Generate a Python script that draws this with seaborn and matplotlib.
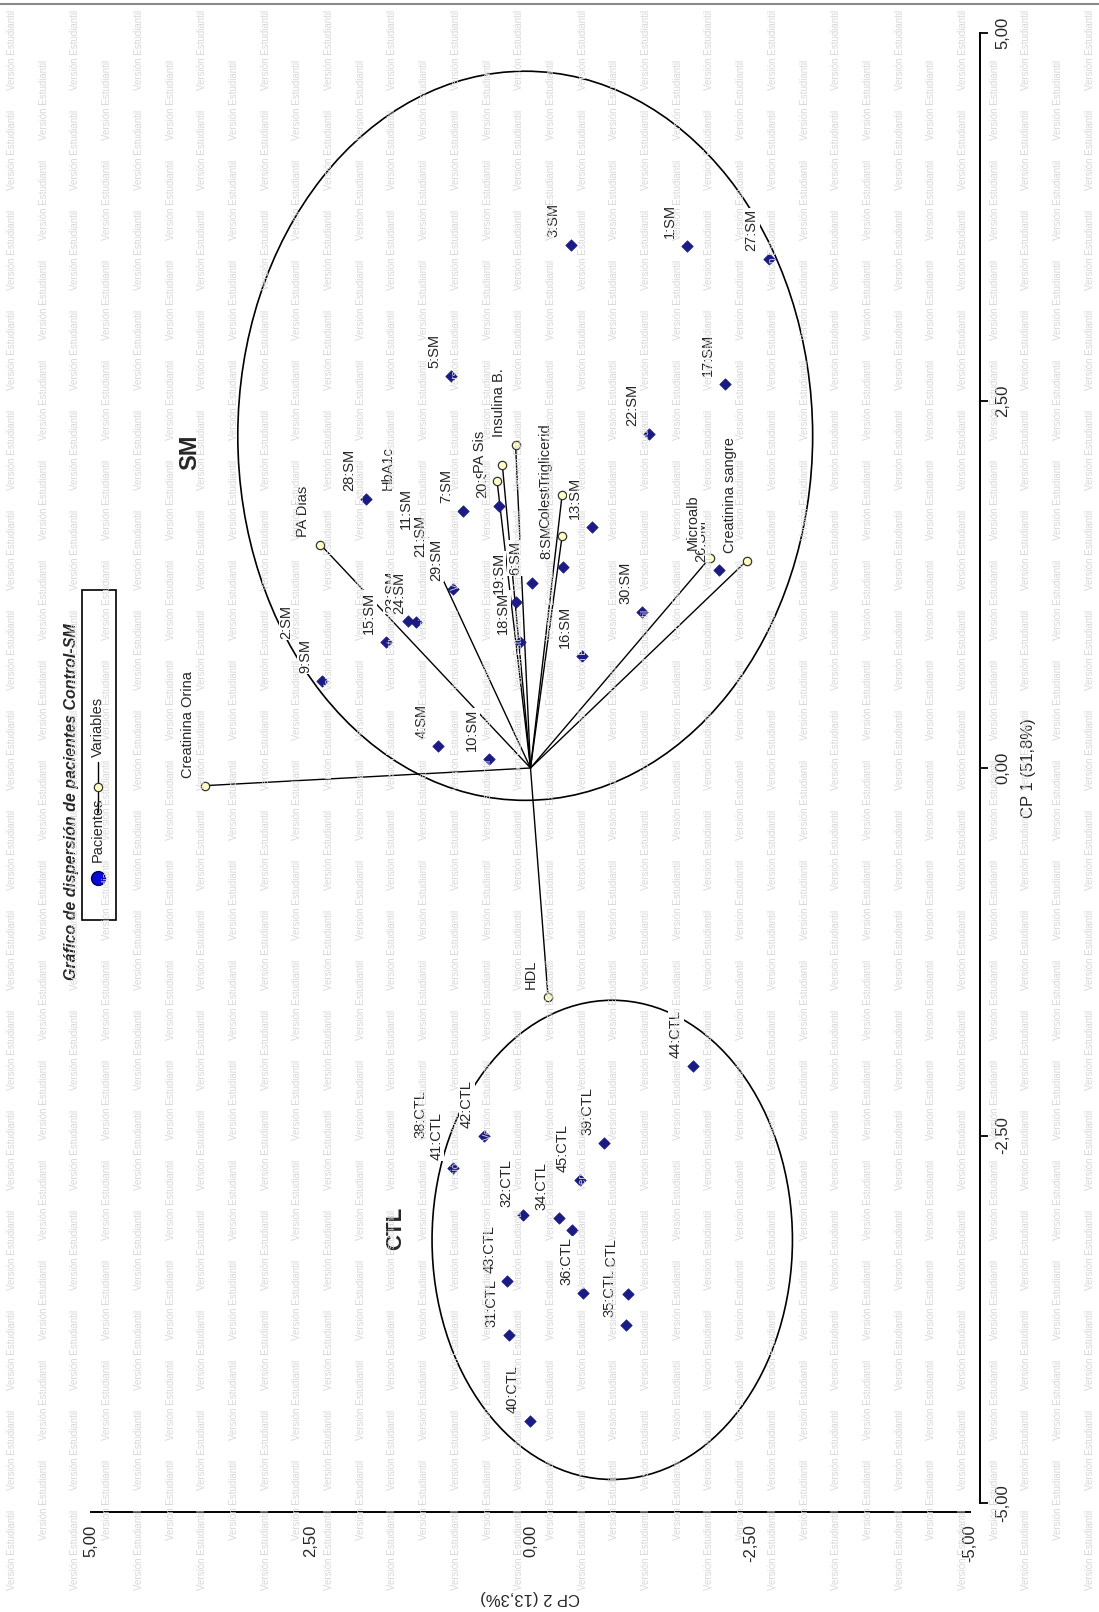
import numpy as np
import pandas as pd
import matplotlib
matplotlib.use("Agg")
import matplotlib.pyplot as plt
from matplotlib.patches import Ellipse, Rectangle
from matplotlib.lines import Line2D
import seaborn as sns

# ---------------- data ----------------
patient_labels = ["1:SM", "2:SM", "3:SM", "4:SM", "5:SM", "6:SM", "7:SM", "8:SM", "9:SM", "10:SM",
                  "11:SM", "13:SM", "15:SM", "16:SM", "17:SM", "18:SM", "19:SM", "20:SM", "21:SM",
                  "22:SM", "23:SM", "24:SM", "26:SM", "27:SM", "28:SM", "29:SM", "30:SM",
                  "31:CTL", "32:CTL", "33:CTL", "34:CTL", "37:CTL", "35:CTL", "36:CTL", "38:CTL",
                  "39:CTL", "40:CTL", "41:CTL", "42:CTL", "43:CTL", "44:CTL", "45:CTL"]
patient_cp1 = [3.55, 0.82, 3.56, 0.15, 2.67, 1.26, 1.75, 1.37, 0.59, 0.06,
               1.57, 1.64, 0.86, 0.76, 2.61, 0.86, 1.13, 1.78, 1.38,
               2.27, 1.00, 0.99, 1.35, 3.46, 1.83, 1.22, 1.06,
               -3.86, -3.04, -3.14, -3.06, -3.58, -3.79, -3.57, -2.57,
               -2.55, -4.44, -2.72, -2.50, -3.49, -2.03, -2.80]
patient_cp2 = [-1.78, 2.58, -0.46, 1.05, 0.90, -0.02, 0.77, -0.37, 2.37, 0.47,
               1.23, -0.70, 1.64, -0.59, -2.21, 0.12, 0.17, 0.36, 1.06,
               -1.35, 1.39, 1.30, -2.14, -2.71, 1.87, 0.88, -1.27,
               0.25, 0.08, -0.47, -0.32, -1.11, -1.09, -0.60, 1.06,
               -0.84, 0.01, 0.88, 0.53, 0.27, -1.85, -0.56]

variable_names = ["Creatinina Orina", "PA Dias", "HbA1c", "Glucosa", "PA Sis", "Insulina B.",
                  "Colesterol", "Triglicerid", "Microalb", "Creatinina sangre", "HDL"]
variable_cp1 = [-0.12, 1.52, 1.84, 2.06, 1.95, 2.20, 1.58, 1.86, 1.43, 1.41, -1.56]
variable_cp2 = [3.70, 2.39, 1.43, 0.32, 0.38, 0.17, -0.36, -0.36, -2.04, -2.46, -0.20]
hidden_labels = {"33:CTL", "Glucosa"}

group_names = ["SM", "CTL"]
ellipse_center_cp1 = [2.26, -3.21]
ellipse_center_cp2 = [0.06, -0.93]
ellipse_half_cp1 = [2.48, 1.63]
ellipse_half_cp2 = [3.27, 2.05]

tick_values = [5.0, 2.5, 0.0, -2.5, -5.0]
tick_labels = ["5,00", "2,50", "0,00", "-2,50", "-5,00"]

title = "Gráfico de dispersión de pacientes Control-SM"
xlab = "CP 1 (51,8%)"
ylab = "CP 2 (13,3%)"
legend_labels = ["Pacientes", "Variables"]

# ---------------- figure ----------------
W, H = 1099, 1612
sns.set_style("white")
plt.rcParams["font.family"] = ["Liberation Sans", "DejaVu Sans"]
NARROW = ["Liberation Sans Narrow", "Liberation Sans", "DejaVu Sans"]

fig = plt.figure(figsize=(W / 100, H / 100), dpi=100)
fig.patch.set_facecolor("white")

def fx(px):
    return px / W

def fy(py):
    return 1 - py / H

# axes: x = CP2 (5 at left, -5 at right), y = CP1 (-5 bottom, 5 top)
ax_l, ax_r, ax_t, ax_b = 91, 970, 33, 1503
ax = fig.add_axes([fx(ax_l), fy(ax_b), (ax_r - ax_l) / W, (ax_b - ax_t) / H])
ax.set_facecolor("none")
ax.set_xlim(5, -5)
ax.set_ylim(-5, 5)

pts = pd.DataFrame({"label": patient_labels, "CP1": patient_cp1, "CP2": patient_cp2})
var = pd.DataFrame({"name": variable_names, "CP1": variable_cp1, "CP2": variable_cp2})

# ellipses
for i in range(len(group_names)):
    e = Ellipse((ellipse_center_cp2[i], ellipse_center_cp1[i]),
                width=2 * ellipse_half_cp2[i], height=2 * ellipse_half_cp1[i],
                fill=False, ec="black", lw=1.2, zorder=1)
    ax.add_patch(e)

# vectors
for _, r in var.iterrows():
    ax.plot([0, r["CP2"]], [0, r["CP1"]], color="black", lw=1.0, zorder=2)

sns.scatterplot(data=pts, x="CP2", y="CP1", ax=ax, marker="D", s=34,
                color="#1b1b84", edgecolor="#1b1b84", linewidth=0.5, zorder=3, legend=False)
sns.scatterplot(data=var, x="CP2", y="CP1", ax=ax, marker="o", s=36,
                color="#ffffc4", edgecolor="#333333", linewidth=0.9, zorder=4, legend=False)

box = dict(facecolor="white", edgecolor="none", pad=0.6)
for _, r in pts.iterrows():
    if r["label"] in hidden_labels:
        continue
    ax.annotate(r["label"], (r["CP2"], r["CP1"]), xytext=(-17, 8), textcoords="offset pixels",
                rotation=90, ha="center", va="bottom", fontsize=10.5, bbox=box, zorder=5)
for _, r in var.iterrows():
    if r["name"] in hidden_labels:
        continue
    ax.annotate(r["name"], (r["CP2"], r["CP1"]), xytext=(-17, 8), textcoords="offset pixels",
                rotation=90, ha="center", va="bottom", fontsize=10.5, bbox=box, zorder=5)

# axes styling
for s in ["top", "left"]:
    ax.spines[s].set_visible(False)
ax.spines["bottom"].set_position(("outward", 9 * 0.72))
ax.spines["right"].set_position(("outward", 10 * 0.72))
for s in ["bottom", "right"]:
    ax.spines[s].set_linewidth(1.4)
    ax.spines[s].set_color("black")
ax.yaxis.tick_right()
ax.set_xticks(tick_values)
ax.set_xticklabels(tick_labels, rotation=90, fontsize=12, family=NARROW)
ax.set_yticks(tick_values)
ax.set_yticklabels(tick_labels, rotation=90, fontsize=12, family=NARROW)
for lab in ax.get_yticklabels():
    lab.set_va("center")
ax.tick_params(axis="both", direction="out", length=6, width=1.3, color="black")
ax.tick_params(axis="x", pad=3)
ax.tick_params(axis="y", pad=5)
ax.set_xlabel("")
ax.set_ylabel("")

# axis titles
fig.text(fx(1028), fy(768), xlab, rotation=90, ha="center", va="center", fontsize=12, family=NARROW)
fig.text(fx(530), fy(1598), ylab, rotation=180, ha="center", va="center", fontsize=12, family=NARROW)

# title
fig.text(fx(72), fy(802), title, rotation=90, ha="center", va="center", fontsize=11.5,
         fontweight="bold", fontstyle="italic")

# group names
fig.text(fx(190), fy(452), group_names[0], rotation=90, ha="center", va="center", fontsize=17, fontweight="bold")
fig.text(fx(396), fy(1228), group_names[1], rotation=90, ha="center", va="center", fontsize=16, fontweight="bold")

# legend (rotated, drawn manually)
fig.add_artist(Rectangle((fx(82), fy(920)), fx(116) - fx(82), fy(590) - fy(920),
                         transform=fig.transFigure, fill=False, ec="black", lw=1.2))
fig.add_artist(Line2D([fx(98)], [fy(878)], transform=fig.transFigure, marker="o", ms=10,
                      mfc="#0a0ad8", mec="#00005a", mew=1.0, ls="none"))
fig.text(fx(98), fy(862), legend_labels[0], rotation=90, ha="center", va="bottom", fontsize=10.5)
fig.add_artist(Line2D([fx(98), fx(98)], [fy(812), fy(762)], transform=fig.transFigure,
                      color="black", lw=1.0))
fig.add_artist(Line2D([fx(98)], [fy(787)], transform=fig.transFigure, marker="o", ms=6,
                      mfc="#ffffc4", mec="#333333", mew=0.9, ls="none"))
fig.text(fx(98), fy(757), legend_labels[1], rotation=90, ha="center", va="bottom", fontsize=10.5)

# top border line
fig.add_artist(Line2D([0, 1], [fy(4), fy(4)], transform=fig.transFigure, color="#8a8a8a", lw=1.5))

# watermark (kept inside the picture)
wm = "Versión Estudiantil"
for ci, x in enumerate(np.arange(12, W - 4, 31.7)):
    off = (ci % 2) * 50
    for y in np.arange(50 + off, H - 45, 100):
        fig.text(fx(x), fy(y), wm, rotation=90, ha="center", va="center", fontsize=7,
                 color="#d8d8d8", zorder=10)

fig.savefig("out.png", dpi=100, facecolor="white")
